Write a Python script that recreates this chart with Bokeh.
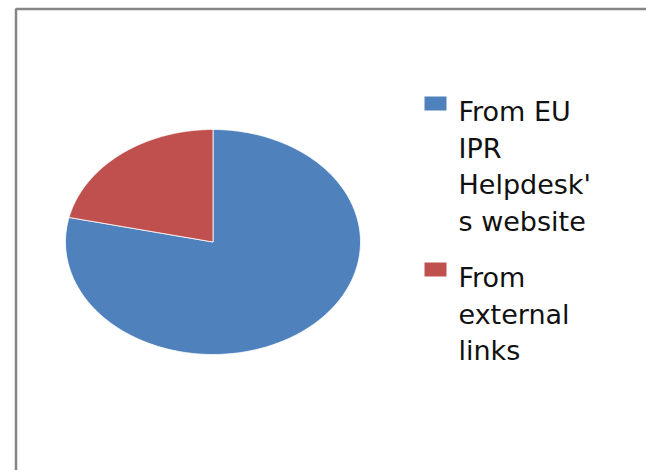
import numpy as np
from bokeh.plotting import figure
from bokeh.models import Range1d
from bokeh.embed import file_html
from bokeh.resources import INLINE
from bokeh.core.properties import value

# ---- data ----
categories = ["From EU IPR Helpdesk's website", "From external links"]
shares = [78.5, 21.5]
colors = ["#4F81BD", "#C0504D"]
label_lines = [["From EU", "IPR", "Helpdesk'", "s website"],
               ["From", "external", "links"]]

W, H = 646, 470
p = figure(width=W, height=H, x_range=Range1d(0, W), y_range=Range1d(H, 0),
           output_backend="svg", toolbar_location=None, min_border=0)
p.xaxis.visible = False
p.yaxis.visible = False
p.grid.visible = False
p.outline_line_color = None
p.background_fill_color = "white"
p.border_fill_color = "white"

# chart area frame (left and top edges visible)
p.line([W + 5, 15.5, 15.5], [8.5, 8.5, H + 5], line_color="#868686", line_width=2.5)

# pie (elliptical, starting at 12 o'clock, clockwise)
cx, cy, rx, ry = 212.5, 241.5, 147.5, 112.5
total = sum(shares)
xs, ys = [], []
start = np.pi / 2
for s in shares:
    sweep = 2 * np.pi * s / total
    th = np.linspace(start, start - sweep, 240)
    xs.append([cx] + list(cx + rx * np.cos(th)))
    ys.append([cy] + list(cy - ry * np.sin(th)))
    start -= sweep
p.patches(xs, ys, fill_color=colors, line_color="white", line_width=0.8)

# legend
first_baselines = [111, 277]
line_step = 36.5
p.rect(x=[435] * len(categories), y=[b - 8 for b in first_baselines],
       width=22, height=14, fill_color=colors, line_color=None)
tx, ty, tt = [], [], []
for lines, b0 in zip(label_lines, first_baselines):
    for k, t in enumerate(lines):
        tx.append(458)
        ty.append(b0 + k * line_step)
        tt.append(t)
p.text(x=tx, y=ty, text=tt, text_font=value("DejaVu Sans"), text_font_size="27px",
       text_baseline="alphabetic", text_align="left", text_color="#111111")

open("out.html", "w").write(file_html(p, INLINE))
